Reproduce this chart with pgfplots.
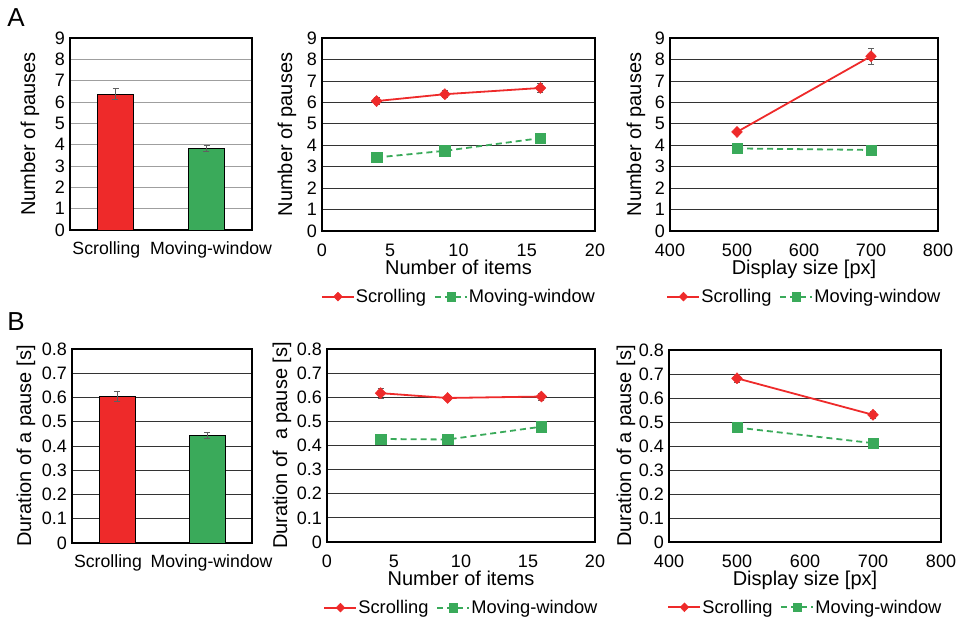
\documentclass[border=0pt]{standalone}
\usepackage{pgfplots}
\pgfplotsset{compat=1.18}
\usepackage{fontspec}
\setmainfont{Liberation Sans}
\definecolor{myred}{HTML}{EE2A2A}
\definecolor{mygreen}{HTML}{3AAA5A}
\definecolor{errgray}{HTML}{606060}
\begin{document}
\begin{tikzpicture}
\useasboundingbox (0pt,0pt) rectangle (961pt,-619pt);
\pgfplotsset{
 base/.style={scale only axis, anchor=south west, clip=false,
   axis line style={line width=1.2pt},
   ymajorgrids, grid style={black!80, line width=0.8pt},
   major tick length=0pt, tick style={draw=none},
   tick label style={font=\fontsize{18}{20}\selectfont},
   y tick label style={inner sep=2pt, xshift=-3pt},
   x tick label style={inner sep=2pt, yshift=-11pt},
   label style={font=\fontsize{20}{22}\selectfont},
   ylabel style={yshift=-2pt},
   xlabel style={yshift=2pt},
   /pgf/number format/assume math mode=true},
 linechart/.style={base,
   legend style={at={(0.5,-0.34)}, anchor=center, draw=none, fill=none,
     legend columns=-1, font=\fontsize{18.3}{20}\selectfont,
     nodes={inner sep=1pt},
     /tikz/every even column/.append style={column sep=7pt}},
   legend image code/.code={\draw[mark repeat=2,mark phase=2,##1,every mark/.append style={scale=0.8}] plot coordinates {(0pt,0pt)(16pt,0pt)(32pt,0pt)};}},
 scr/.style={myred, line width=1.8pt, mark=diamond*, mark size=5.5pt,
   mark options={solid, fill=myred, draw=myred, line width=0.5pt, xscale=1.3},
   error bars/.cd, y dir=both, y explicit,
   error bar style={errgray, line width=0.8pt, solid},
   error mark options={rotate=90, mark size=3pt, errgray, line width=0.8pt}},
 mov/.style={mygreen, line width=1.8pt, dash pattern=on 6pt off 4pt, mark=square*, mark size=5.2pt,
   mark options={solid, fill=mygreen, draw=mygreen, line width=0.5pt},
   error bars/.cd, y dir=both, y explicit,
   error bar style={errgray, line width=0.8pt, solid},
   error mark options={rotate=90, mark size=3pt, errgray, line width=0.8pt}},
 barerr/.style={error bars/.cd, y dir=both, y explicit,
   error bar style={errgray, line width=0.8pt},
   error mark options={rotate=90, mark size=3pt, errgray, line width=0.8pt}},
 countaxis/.style={ymin=0, ymax=9, ytick={0,1,...,9}, ylabel={Number of pauses}, ylabel style={yshift=7pt}},
 duraxis/.style={ymin=0, ymax=0.8, ytick={0,0.1,0.2,0.3,0.4,0.5,0.6,0.7,0.8},
   yticklabels={0,0.1,0.2,0.3,0.4,0.5,0.6,0.7,0.8}},
 baraxis/.style={base, xmin=-0.5, xmax=1.5, xtick={-0.1,1.05}, xticklabels={Scrolling,Moving-window},
   x tick label style={font=\fontsize{17.7}{20}\selectfont, yshift=2pt},
   ybar, bar width=36pt},
}
\node[font=\fontsize{26}{28}\selectfont] at (16pt,-18pt) {A};
\node[font=\fontsize{26}{28}\selectfont] at (16pt,-322pt) {B};

% A1 bar chart
\begin{axis}[baraxis, countaxis, at={(70pt,-230pt)}, width=182pt, height=192pt,
  grid style={gray!75, line width=0.8pt}, ylabel style={yshift=5pt}]
\addplot[fill=myred, draw=black, line width=0.6pt, bar shift=0pt, barerr] coordinates {(0,6.36) +- (0,0.26)};
\addplot[fill=mygreen, draw=black, line width=0.6pt, bar shift=0pt, barerr] coordinates {(1,3.83) +- (0,0.13)};
\end{axis}

% A2
\begin{axis}[linechart, countaxis, at={(322pt,-231pt)}, width=273pt, height=193pt,
  xmin=0, xmax=20, xtick={0,5,10,15,20}, xlabel={Number of items}]
\addplot[scr] coordinates {(4,6.06) +- (0,0.15) (9,6.38) +- (0,0.17) (16,6.67) +- (0,0.2)};
\addlegendentry{Scrolling}
\addplot[mov] coordinates {(4,3.43) +- (0,0.1) (9,3.74) +- (0,0.1) (16,4.33) +- (0,0.12)};
\addlegendentry{Moving-window}
\end{axis}

% A3
\begin{axis}[linechart, countaxis, at={(670pt,-231pt)}, width=268pt, height=193pt,
  xmin=400, xmax=800, xtick={400,500,600,700,800}, xlabel={Display size [px]}, ylabel style={yshift=-1pt}]
\addplot[scr] coordinates {(500,4.62) +- (0,0.12) (700,8.15) +- (0,0.38)};
\addlegendentry{Scrolling}
\addplot[mov] coordinates {(500,3.85) +- (0,0.1) (700,3.78) +- (0,0.1)};
\addlegendentry{Moving-window}
\end{axis}

% B1 bar chart
\begin{axis}[baraxis, duraxis, ylabel={Duration of a pause [s]}, at={(72pt,-543pt)}, width=180pt, height=194pt, ylabel style={yshift=3pt}]
\addplot[fill=myred, draw=black, line width=0.6pt, bar shift=0pt, barerr] coordinates {(0,0.605) +- (0,0.02)};
\addplot[fill=mygreen, draw=black, line width=0.6pt, bar shift=0pt, barerr] coordinates {(1,0.444) +- (0,0.012)};
\end{axis}

% B2
\begin{axis}[linechart, duraxis, ylabel={Duration of~ a pause [s]}, at={(327pt,-542pt)}, width=268pt, height=193pt,
  xmin=0, xmax=20, xtick={0,5,10,15,20}, xlabel={Number of items}, ylabel style={yshift=2pt}]
\addplot[scr] coordinates {(4,0.617) +- (0,0.02) (9,0.597) +- (0,0.012) (16,0.603) +- (0,0.015)};
\addlegendentry{Scrolling}
\addplot[mov] coordinates {(4,0.427) +- (0,0.01) (9,0.425) +- (0,0.01) (16,0.478) +- (0,0.012)};
\addlegendentry{Moving-window}
\end{axis}

% B3
\begin{axis}[linechart, duraxis, ylabel={Duration of a pause [s]}, at={(669pt,-542pt)}, width=272pt, height=192pt,
  xmin=400, xmax=800, xtick={400,500,600,700,800}, xlabel={Display size [px]}]
\addplot[scr] coordinates {(500,0.682) +- (0,0.018) (700,0.530) +- (0,0.015)};
\addlegendentry{Scrolling}
\addplot[mov] coordinates {(500,0.477) +- (0,0.01) (700,0.412) +- (0,0.01)};
\addlegendentry{Moving-window}
\end{axis}
\end{tikzpicture}
\end{document}
